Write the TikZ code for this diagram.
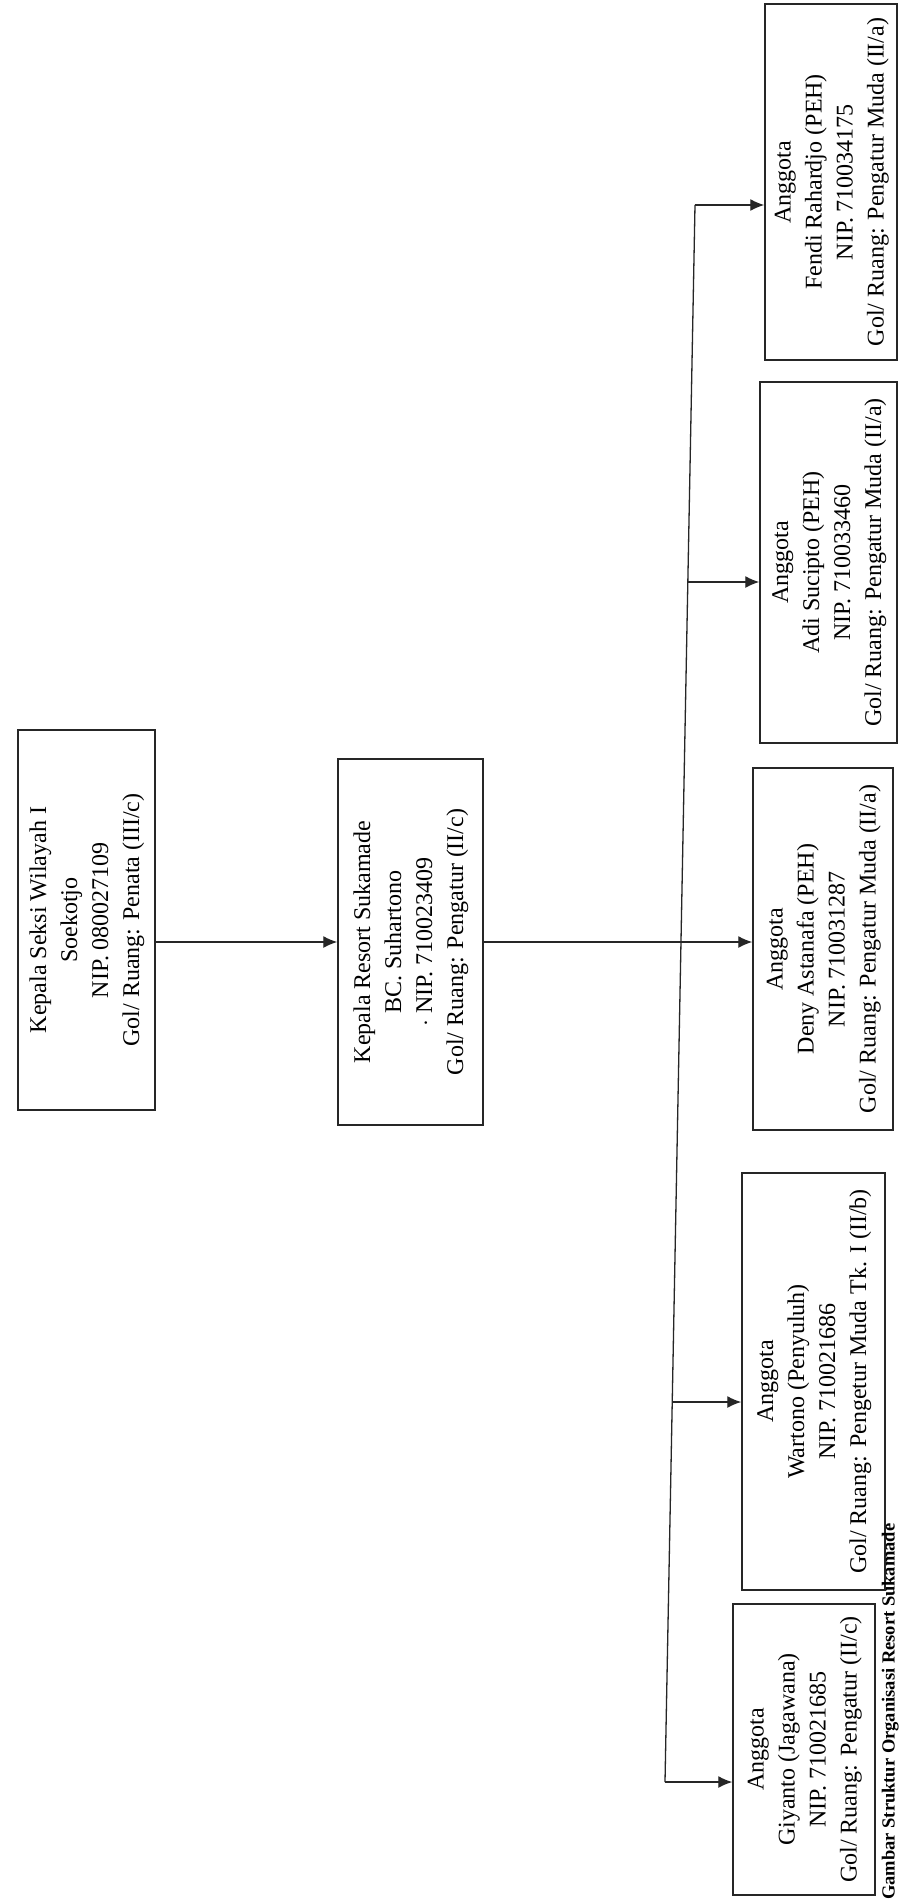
\documentclass[tikz,border=0pt]{standalone}
\usepackage{fontspec}
\usepackage{graphicx}
\setmainfont{Liberation Serif}
\usetikzlibrary{arrows.meta}
\newcommand\bxt[1]{\rotatebox{90}{\fontsize{24}{31}\selectfont\begin{tabular}{@{}c@{}}#1\end{tabular}}}
\begin{document}
\begin{tikzpicture}[x=1pt,y=-1pt,
  box/.style={draw=black!85, line width=1.5pt, inner sep=0pt},
  arr/.style={draw=black!85, line width=1.3pt, -{Latex[length=14pt,width=12pt]}},
  ln/.style={draw=black!85, line width=1.3pt}]
\useasboundingbox[fill=white] (0,0) rectangle (900,1901);
\node[box, minimum width=137pt, minimum height=380pt] (ks) at (86.5,920)
  {\bxt{Kepala Seksi Wilayah I\\Soekotjo\\NIP. 080027109\\Gol/ Ruang: Penata (III/c)}};
\node[box, minimum width=145pt, minimum height=366pt] (kr) at (410.5,942)
  {\bxt{Kepala Resort Sukamade\\BC. Suhartono\\$\cdot$ NIP. 710023409\\Gol/ Ruang: Pengatur (II/c)}};
\node[box, minimum width=132pt, minimum height=356pt] (fe) at (831,182)
  {\bxt{Anggota\\Fendi Rahardjo (PEH)\\NIP. 710034175\\Gol/ Ruang: Pengatur Muda (II/a)}};
\node[box, minimum width=137pt, minimum height=361pt] (ad) at (828.5,562.5)
  {\bxt{Anggota\\Adi Sucipto (PEH)\\NIP. 710033460\\Gol/ Ruang: Pengatur Muda (II/a)}};
\node[box, minimum width=140pt, minimum height=362pt] (de) at (823,949)
  {\bxt{Anggota\\Deny Astanafa (PEH)\\NIP. 710031287\\Gol/ Ruang: Pengatur Muda (II/a)}};
\node[box, minimum width=143pt, minimum height=417pt] (wa) at (813.5,1381.5)
  {\bxt{Anggota\\Wartono (Penyuluh)\\NIP. 710021686\\Gol/ Ruang: Pengetur Muda Tk. I (II/b)}};
\node[box, minimum width=142pt, minimum height=291pt] (gi) at (804,1749.5)
  {\bxt{Anggota\\Giyanto (Jagawana)\\NIP. 710021685\\Gol/ Ruang: Pengatur (II/c)}};
\coordinate (bf) at (695,205);
\coordinate (ba) at (688,582);
\coordinate (bd) at (681,942);
\coordinate (bw) at (673,1402);
\coordinate (bg) at (665,1782);
\draw[ln] (bf) -- (bg);
\draw[arr] (ks.east |- kr.west) -- (kr.west);
\draw[ln] (kr.east) -- (bd);
\draw[arr] (bf) -- (bf -| fe.west);
\draw[arr] (ba) -- (ba -| ad.west);
\draw[arr] (bd) -- (bd -| de.west);
\draw[arr] (bw) -- (bw -| wa.west);
\draw[arr] (bg) -- (bg -| gi.west);
\node[rotate=90, anchor=south west, inner sep=0pt, font={\bfseries\fontsize{18.5}{22}\selectfont}] (cap) at (899,1900) {Gambar Struktur Organisasi Resort Sukamade};
\end{tikzpicture}
\end{document}
